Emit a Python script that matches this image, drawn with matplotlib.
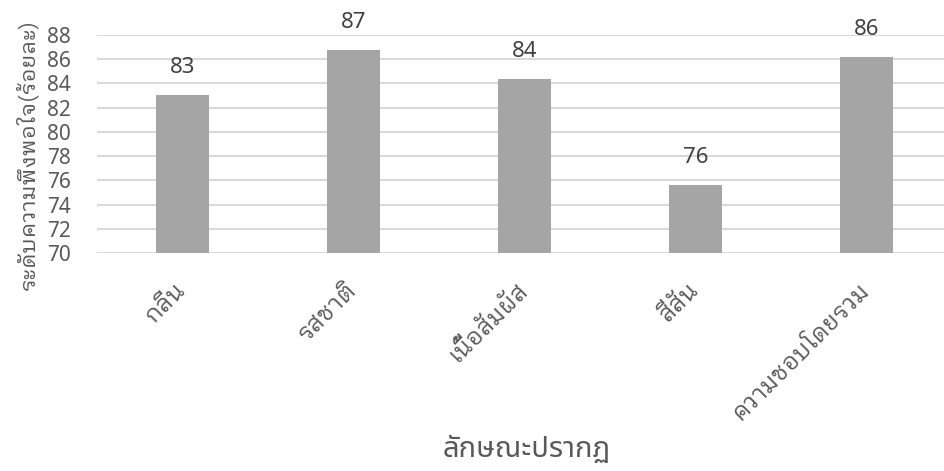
import matplotlib
matplotlib.use("Agg")
import matplotlib.pyplot as plt

# ความพึงพอใจแต่ละลักษณะปรากฏ (ร้อยละ)
categories = ["กลิ่น", "รสชาติ", "เนื้อสัมผัส", "สีสัน", "ความชอบโดยรวม"]
scores = [83.05, 86.8, 84.35, 75.6, 86.2]
yticks = [70, 72, 74, 76, 78, 80, 82, 84, 86, 88]

looped = ["IBM Plex Sans Thai Looped", "Noto Sans Thai Looped", "DejaVu Sans"]
loopless = ["Noto Sans Thai", "Noto Sans", "DejaVu Sans"]
digits = ["Noto Sans", "DejaVu Sans"]
tick_color = "#595959"

fig = plt.figure(figsize=(9.44, 4.71), dpi=100)
ax = fig.add_axes([97 / 944, 1 - 253 / 471, (944 - 97) / 944, 218 / 471])

x = list(range(len(categories)))
ax.bar(x, scores, width=0.31, color="#a5a5a5", zorder=3)

for xi, v in zip(x, scores):
    ax.annotate(f"{v:.0f}", (xi, v), xytext=(0, 17), textcoords="offset pixels",
                ha="center", va="bottom", fontsize=16, color="#404040", family=digits)

ax.set_ylim(70, 88)
ax.set_xlim(-0.5, 4.5 - 8 / 171)
ax.set_yticks(yticks)
ax.set_yticklabels([str(t) for t in yticks], fontsize=15, color=tick_color, family=digits)
ax.set_xticks(x)
ax.set_xticklabels(categories, rotation=45, ha="right", va="center", rotation_mode="anchor",
                   fontsize=17, color=tick_color, family=looped)
ax.tick_params(axis="y", length=0, pad=19)
ax.tick_params(axis="x", length=0, pad=24)

ax.grid(axis="y", color="#d9d9d9", linewidth=1.5, zorder=0)
for s in ax.spines.values():
    s.set_visible(False)

ax.set_ylabel("ระดับความพึงพอใจ(ร้อยละ)", fontsize=16, color=tick_color, family=looped)
ax.yaxis.set_label_coords(-58 / 847, 0.45)
ax.set_xlabel("ลักษณะปรากฏ", fontsize=21, color=tick_color, family=loopless)
ax.xaxis.set_label_coords(430 / 847, -0.835)

fig.savefig("out.png", dpi=100)
